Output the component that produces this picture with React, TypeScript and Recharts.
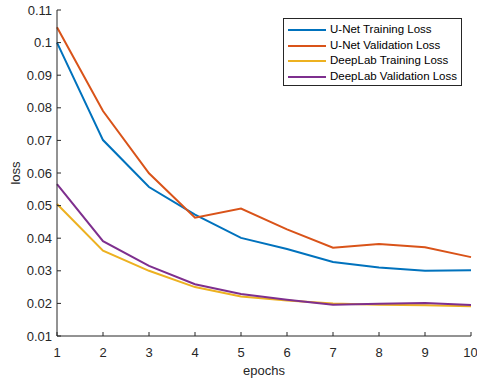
import { LineChart, Line, XAxis, YAxis, Legend } from "recharts";

const epochs = [1, 2, 3, 4, 5, 6, 7, 8, 9, 10];
const unetTrain = [0.1, 0.0701, 0.0557, 0.0472, 0.0401, 0.0367, 0.0327, 0.031, 0.03, 0.0302];
const unetVal = [0.1047, 0.079, 0.0599, 0.0463, 0.0491, 0.0427, 0.0371, 0.0382, 0.0372, 0.0342];
const deepTrain = [0.0505, 0.0362, 0.03, 0.025, 0.0221, 0.0209, 0.02, 0.0196, 0.0194, 0.0191];
const deepVal = [0.0566, 0.0391, 0.0315, 0.0259, 0.0229, 0.0211, 0.0196, 0.0199, 0.0201, 0.0195];
const yTicks = [0.01, 0.02, 0.03, 0.04, 0.05, 0.06, 0.07, 0.08, 0.09, 0.1, 0.11];

const SERIES = [
  { key: "unetTrain", name: "U-Net Training Loss", color: "#0072BD" },
  { key: "unetVal", name: "U-Net Validation Loss", color: "#D95319" },
  { key: "deepTrain", name: "DeepLab Training Loss", color: "#EDB120" },
  { key: "deepVal", name: "DeepLab Validation Loss", color: "#7E2F8E" },
];

const data = epochs.map((e, i) => ({
  epoch: e,
  unetTrain: unetTrain[i],
  unetVal: unetVal[i],
  deepTrain: deepTrain[i],
  deepVal: deepVal[i],
}));

const FONT = "'Liberation Sans', Arial, Helvetica, sans-serif";
const INK = "#262626";

const noTick = () => <g />;

function LegendBox() {
  return (
    <div
      style={{
        boxSizing: "border-box",
        width: 179,
        height: 68,
        border: `1px solid ${INK}`,
        background: "#fff",
        padding: "3px 0 0 4px",
        fontFamily: FONT,
        fontSize: 11.5,
        color: "#000",
        lineHeight: "15.7px",
        whiteSpace: "nowrap",
      }}
    >
      {SERIES.map((s) => (
        <div key={s.key} style={{ display: "flex", alignItems: "center" }}>
          <span style={{ display: "inline-block", width: 38, height: 2, background: s.color, marginRight: 4 }} />
          {s.name}
        </div>
      ))}
    </div>
  );
}

export default function App() {
  return (
    <div style={{ position: "absolute", left: 0, top: 0, width: 477, height: 378, background: "#fff" }}>
      <LineChart width={477} height={378} data={data} margin={{ top: 10, right: 6, bottom: 0, left: 0 }}>
        <XAxis
          dataKey="epoch"
          type="number"
          domain={[1, 10]}
          ticks={epochs}
          height={42}
          tickSize={-4}
          tickMargin={16}
          stroke={INK}
          tick={{ fill: INK, fontSize: 13, fontFamily: FONT }}
          label={{ value: "epochs", position: "insideBottom", offset: 3, fill: INK, fontSize: 13, fontFamily: FONT }}
        />
        <XAxis
          xAxisId="top"
          orientation="top"
          type="number"
          domain={[1, 10]}
          ticks={epochs}
          height={0}
          tickSize={-4}
          stroke={INK}
          tick={noTick}
        />
        <YAxis
          type="number"
          domain={[0.01, 0.11]}
          ticks={yTicks}
          width={57}
          tickSize={-4}
          tickMargin={9}
          stroke={INK}
          tick={{ fill: INK, fontSize: 13, fontFamily: FONT }}
          tickFormatter={(v: number) => String(Number(v.toFixed(2)))}
          label={{
            value: "loss",
            angle: -90,
            position: "insideLeft",
            offset: 15,
            fill: INK,
            fontSize: 13,
            fontFamily: FONT,
            style: { textAnchor: "middle" },
          }}
        />
        <YAxis
          yAxisId="right"
          orientation="right"
          type="number"
          domain={[0.01, 0.11]}
          ticks={yTicks}
          width={0}
          tickSize={-4}
          stroke={INK}
          tick={noTick}
        />
        <Legend
          layout="vertical"
          align="center"
          verticalAlign="middle"
          content={() => <LegendBox />}
          wrapperStyle={{ top: 18, left: 283, width: 179 }}
        />
        {SERIES.map((s) => (
          <Line
            key={s.key}
            type="linear"
            dataKey={s.key}
            name={s.name}
            stroke={s.color}
            strokeWidth={2}
            dot={false}
            isAnimationActive={false}
          />
        ))}
      </LineChart>
    </div>
  );
}
